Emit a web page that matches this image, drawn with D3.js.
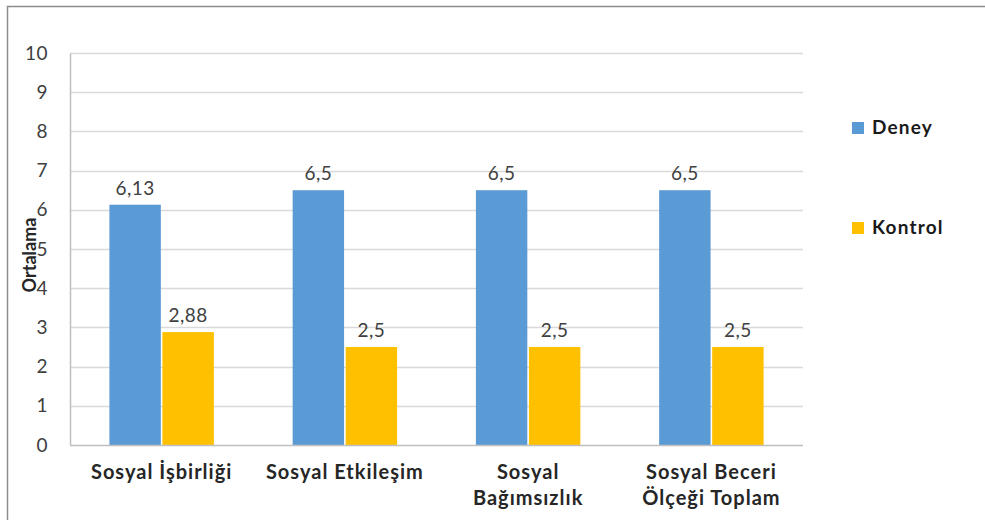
<!DOCTYPE html>
<html>
<head>
<meta charset="utf-8">
<script src="https://cdn.jsdelivr.net/npm/d3@7"></script>
<style>
  html, body { margin: 0; padding: 0; background: #fff; }
  svg { display: block; }
</style>
</head>
<body>
<svg id="chart" width="985" height="520"></svg>
<script>
// Category labels (multi-line where the label wraps)
const categories = [
  ["Sosyal İşbirliği"],
  ["Sosyal Etkileşim"],
  ["Sosyal", "Bağımsızlık"],
  ["Sosyal Beceri", "Ölçeği Toplam"]
];
const seriesNames = ["Deney", "Kontrol"];
const deneyValues = [6.13, 6.5, 6.5, 6.5];
const kontrolValues = [2.88, 2.5, 2.5, 2.5];
const yTicks = [0, 1, 2, 3, 4, 5, 6, 7, 8, 9, 10];
const colors = ["#5B9BD5", "#FFC000"];

const fontFamily = "Lato, 'Open Sans', sans-serif";
const svg = d3.select("#chart");

// Outer chart frame
svg.append("rect")
  .attr("x", 7.5).attr("y", 6.5)
  .attr("width", 1000).attr("height", 600)
  .attr("fill", "none")
  .attr("stroke", "#8c8c8c")
  .attr("stroke-width", 1.5);

const plot = { left: 70, right: 803, top: 53, bottom: 445 };

const catKeys = categories.map((c, i) => i);
const x0 = d3.scaleBand()
  .domain(catKeys)
  .range([plot.left, plot.right])
  .paddingInner(0.43)
  .paddingOuter(0.215);

const x1 = d3.scaleBand()
  .domain(seriesNames)
  .range([0, x0.bandwidth()])
  .paddingInner(0.03);

const y = d3.scaleLinear().domain([0, 10]).range([plot.bottom, plot.top]);

// Horizontal gridlines
svg.append("g")
  .selectAll("line")
  .data(yTicks.filter(t => t > 0))
  .join("line")
  .attr("x1", plot.left).attr("x2", plot.right)
  .attr("y1", d => Math.round(y(d)) + 0.5)
  .attr("y2", d => Math.round(y(d)) + 0.5)
  .attr("stroke", "#d9d9d9")
  .attr("stroke-width", 1.5);

// Y axis
const yAxis = d3.axisLeft(y).tickValues(yTicks).tickSize(0).tickPadding(22).tickFormat(d3.format("d"));
const yg = svg.append("g")
  .attr("transform", `translate(${plot.left},0)`)
  .call(yAxis);
yg.select(".domain").attr("stroke", "#bfbfbf").attr("stroke-width", 1.5);
yg.selectAll("text")
  .attr("font-family", fontFamily)
  .attr("font-size", 19)
  .attr("letter-spacing", 0.5)
  .attr("fill", "#404040");

// Bars
const seriesData = [deneyValues, kontrolValues];
const groups = svg.append("g")
  .selectAll("g")
  .data(catKeys)
  .join("g")
  .attr("transform", d => `translate(${x0(d)},0)`);

groups.selectAll("rect")
  .data(i => seriesNames.map((s, k) => ({ s, k, v: seriesData[k][i] })))
  .join("rect")
  .attr("x", d => x1(d.s))
  .attr("y", d => y(d.v))
  .attr("width", x1.bandwidth())
  .attr("height", d => y(0) - y(d.v))
  .attr("fill", d => colors[d.k]);

// Value labels
const fmt = v => String(v).replace(".", ",");
groups.selectAll("text.val")
  .data(i => seriesNames.map((s, k) => ({ s, k, v: seriesData[k][i] })))
  .join("text")
  .attr("class", "val")
  .attr("x", d => x1(d.s) + x1.bandwidth() / 2)
  .attr("y", d => y(d.v) - 10)
  .attr("text-anchor", "middle")
  .attr("font-family", fontFamily)
  .attr("font-size", 19)
  .attr("letter-spacing", 0.5)
  .attr("fill", "#404040")
  .text(d => fmt(d.v));

// X axis baseline
svg.append("line")
  .attr("x1", plot.left).attr("x2", plot.right)
  .attr("y1", plot.bottom + 0.5).attr("y2", plot.bottom + 0.5)
  .attr("stroke", "#bfbfbf")
  .attr("stroke-width", 1.5);

// Category labels
const catLabels = svg.append("g")
  .selectAll("text")
  .data(catKeys)
  .join("text")
  .attr("x", d => x0(d) + x0.bandwidth() / 2)
  .attr("y", 479)
  .attr("text-anchor", "middle")
  .attr("font-family", fontFamily)
  .attr("font-weight", "bold")
  .attr("font-size", 20)
  .attr("letter-spacing", 1)
  .attr("fill", "#262626");
catLabels.selectAll("tspan")
  .data(d => categories[d].map((line, j) => ({ line, j, cx: x0(d) + x0.bandwidth() / 2 })))
  .join("tspan")
  .attr("x", d => d.cx)
  .attr("dy", d => d.j === 0 ? 0 : 26)
  .text(d => d.line);

// Y axis title
svg.append("text")
  .attr("transform", "translate(36,255) rotate(-90)")
  .attr("text-anchor", "middle")
  .attr("font-family", fontFamily)
  .attr("font-weight", "bold")
  .attr("font-size", 18)
  .attr("fill", "#262626")
  .text("Ortalama");

// Legend
const legend = svg.append("g")
  .selectAll("g")
  .data(seriesNames)
  .join("g")
  .attr("transform", (d, i) => `translate(852,${122 + i * 100})`);
legend.append("rect")
  .attr("width", 12).attr("height", 12)
  .attr("fill", (d, i) => colors[i]);
legend.append("text")
  .attr("x", 20).attr("y", 12)
  .attr("font-family", fontFamily)
  .attr("font-weight", "bold")
  .attr("font-size", 19)
  .attr("letter-spacing", 1.2)
  .attr("fill", "#1a1a1a")
  .text(d => d);
</script>
</body>
</html>
